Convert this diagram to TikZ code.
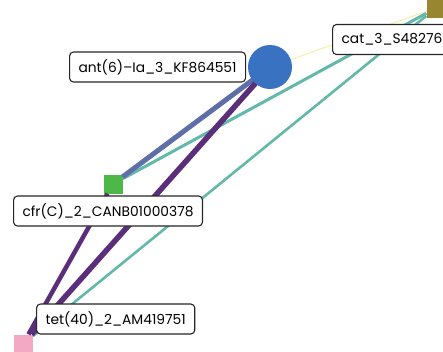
\documentclass[tikz,border=0pt]{standalone}
\usepackage{fontspec}
\setmainfont{Poppins}
\usepackage{tikz}
\usetikzlibrary{positioning}

\definecolor{hubblue}{HTML}{3A72C2}
\definecolor{cfrgreen}{HTML}{4DB748}
\definecolor{tetpink}{HTML}{F3A9C3}
\definecolor{catolive}{HTML}{998630}
\definecolor{linkslate}{HTML}{5E6EA8}
\definecolor{linkpurple}{HTML}{5A2E78}
\definecolor{linkteal}{HTML}{62B9AA}
\definecolor{linkyellow}{HTML}{F4EFA6}

\tikzset{
  hub/.style={circle, fill=hubblue, minimum size=44pt, inner sep=0pt},
  gene/.style={rectangle, minimum size=19pt, inner sep=0pt},
  lab/.style={draw=black!85, line width=1.1pt, rounded corners=4pt, fill=white,
    anchor=west, minimum height=30pt, inner xsep=9pt, font=\fontsize{13.8}{14}\selectfont},
}

\begin{document}
\begin{tikzpicture}[x=1pt,y=-1pt]
\useasboundingbox (0,0) rectangle (443,351);
% Gene nodes
\node[gene, fill=cfrgreen] (cfr) at (113,184) {};
\node[gene, fill=tetpink] (tet) at (23,344) {};
\node[gene, fill=catolive] (cat) at (436,8) {};

% Links
\draw[linkyellow, line width=1pt] (270,67) -- (cat);
\draw[linkteal, line width=3pt] (cat) -- (cfr);
\draw[linkteal, line width=2.6pt] (cat) -- (tet);
\draw[linkslate, line width=5pt] (270,67) -- (cfr);
\draw[linkpurple, line width=4.5pt] (cfr) -- (tet);
\draw[linkpurple, line width=5.5pt] (270,67) -- (tet);

\node[hub] (ant) at (270,67) {};

% Labels
\node[lab] (antlab) at (69,67) {ant(6)–Ia\_3\_KF864551};
\node[lab] (catlab) at (332,39.5) {cat\_3\_S48276};
\node[lab] (cfrlab) at (13,211) {cfr(C)\_2\_CANB01000378};
\node[lab] (tetlab) at (36,319) {tet(40)\_2\_AM419751};
\end{tikzpicture}
\end{document}
